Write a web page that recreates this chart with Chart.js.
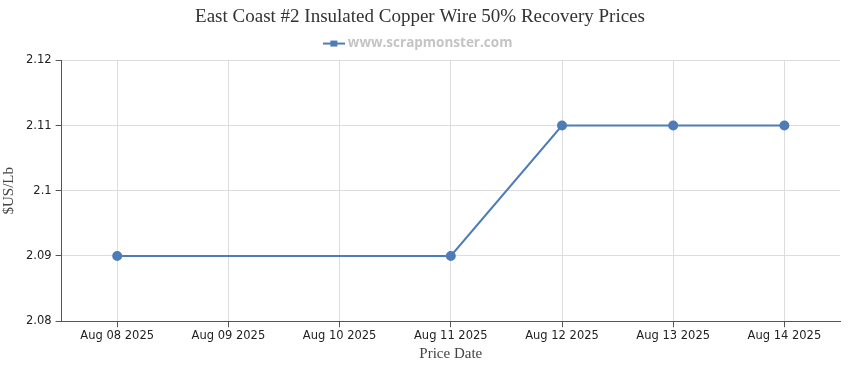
<!DOCTYPE html>
<html>
<head>
<meta charset="utf-8">
<script src="https://cdn.jsdelivr.net/npm/chart.js@4"></script>
<style>
  html, body { margin: 0; padding: 0; background: #fff; }
  #wrap { width: 850px; height: 370px; }
</style>
</head>
<body>
<div id="wrap"><canvas id="priceChart"></canvas></div>
<script>
const dates = ['Aug 08 2025', 'Aug 09 2025', 'Aug 10 2025', 'Aug 11 2025', 'Aug 12 2025', 'Aug 13 2025', 'Aug 14 2025'];
const prices = [2.09, null, null, 2.09, 2.11, 2.11, 2.11];
const yTicks = [2.08, 2.09, 2.1, 2.11, 2.12];

const lineColor = '#4f7cb6';

// legend marker: line with a square in the middle
const marker = document.createElement('canvas');
marker.width = 22; marker.height = 8;
const mctx = marker.getContext('2d');
mctx.fillStyle = lineColor;
mctx.fillRect(0, 3, 22, 2);
mctx.fillRect(7, 1, 7, 6);

const ctx = document.getElementById('priceChart').getContext('2d');
new Chart(ctx, {
    type: 'line',
    data: {
        labels: dates,
        datasets: [{
            label: 'www.scrapmonster.com',
            data: prices,
            borderColor: lineColor,
            backgroundColor: lineColor,
            borderWidth: 2,
            tension: 0,
            spanGaps: true,
            pointRadius: 4,
            pointHoverRadius: 5,
            pointBackgroundColor: lineColor,
            pointBorderColor: lineColor,
            pointStyle: 'circle'
        }]
    },
    options: {
        responsive: true,
        maintainAspectRatio: false,
        animation: false,
        layout: { padding: { left: 0, right: 10, top: 2, bottom: 7 } },
        scales: {
            x: {
                offset: true,
                grid: {
                    offset: false,
                    color: '#dddddd',
                    tickColor: '#555555',
                    tickLength: 6
                },
                border: { color: '#555555' },
                ticks: {
                    color: '#222',
                    font: { family: 'DejaVu Sans', size: 11.5 },
                    maxRotation: 0,
                    padding: 2
                },
                title: {
                    display: true,
                    text: 'Price Date',
                    color: '#444',
                    font: { family: 'Liberation Serif', size: 15 },
                    padding: { top: 0, bottom: 0 }
                }
            },
            y: {
                min: yTicks[0],
                max: yTicks[yTicks.length - 1],
                afterBuildTicks: (axis) => { axis.ticks = yTicks.map(v => ({ value: v })); },
                grid: {
                    color: '#dddddd',
                    tickColor: '#555555',
                    tickLength: 6
                },
                border: { color: '#555555' },
                ticks: {
                    color: '#222',
                    font: { family: 'DejaVu Sans', size: 11.5 },
                    padding: 4,
                    callback: (value) => String(Math.round(value * 100) / 100)
                },
                title: {
                    display: true,
                    text: '$US/Lb',
                    color: '#444',
                    font: { family: 'Liberation Serif', size: 15 },
                    padding: { top: 0, bottom: 4 }
                }
            }
        },
        plugins: {
            title: {
                display: true,
                text: 'East Coast #2 Insulated Copper Wire 50% Recovery Prices',
                color: '#333',
                font: { family: 'Liberation Serif', size: 19, weight: 'normal' },
                padding: { top: 4, bottom: 1 }
            },
            legend: {
                display: true,
                labels: {
                    color: '#c4c4c4',
                    font: { family: 'Open Sans', size: 13.5, weight: 'bold' },
                    usePointStyle: true,
                    boxHeight: 8,
                    padding: 7,
                    generateLabels: (chart) => chart.data.datasets.map((ds, i) => ({
                        text: ds.label,
                        pointStyle: marker,
                        fontColor: '#c4c4c4',
                        datasetIndex: i,
                        hidden: false
                    }))
                }
            },
            tooltip: { enabled: true }
        }
    }
});
</script>
</body>
</html>
